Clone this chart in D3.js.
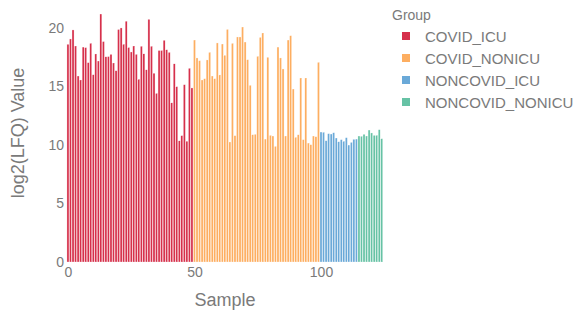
<!DOCTYPE html>
<html>
<head>
<meta charset="utf-8">
<script src="https://cdn.jsdelivr.net/npm/d3@7"></script>
<style>
  body { margin: 0; background: #fff; }
  svg text { font-family: "Liberation Sans", Arial, sans-serif; }
</style>
</head>
<body>
<svg id="chart" width="574" height="314"></svg>
<script>
// values, one array per group, in sample order
var groups = ['COVID_ICU', 'COVID_NONICU', 'NONCOVID_ICU', 'NONCOVID_NONICU'];

var covidIcu = [18.58, 19.03, 19.80, 18.43, 15.87, 15.53, 18.34, 18.29, 17.01, 18.66,
  15.98, 17.75, 17.15, 21.16, 18.81, 17.51, 17.53, 17.72, 16.98, 16.32,
  19.84, 19.97, 18.58, 20.55, 18.30, 17.92, 18.43, 17.72, 15.59, 18.41,
  17.76, 16.40, 20.71, 18.41, 16.11, 14.39, 18.05, 18.05, 18.92, 18.11,
  17.89, 13.58, 16.91, 14.96, 10.34, 10.78, 15.13, 10.31, 16.53, 14.85];

var covidNonIcu = [18.94, 17.41, 17.18, 15.53, 15.64, 17.24, 17.89, 15.87, 15.64, 18.69,
  15.96, 18.60, 17.64, 19.85, 10.24, 18.66, 10.78, 19.20, 19.20, 20.05,
  18.77, 17.26, 15.08, 10.86, 10.90, 17.55, 19.17, 19.54, 10.49, 17.47,
  10.81, 10.75, 9.87, 18.34, 17.41, 16.47, 10.75, 18.94, 19.31, 14.76,
  10.64, 10.86, 15.70, 10.44, 15.70, 10.15, 10.01, 10.75, 10.69, 17.04];

var noncovidIcu = [11.09, 11.07, 10.35, 10.95, 10.92, 11.03, 10.58, 10.26, 10.44, 10.30,
  10.61, 9.98, 10.21, 10.47, 10.49];

var noncovidNonIcu = [10.75, 10.73, 10.90, 10.75, 11.26, 11.01, 10.81, 10.81, 11.29, 10.52];

var xTicks = [0, 50, 100];
var yTicks = [0, 5, 10, 15, 20];

var colors = { COVID_ICU: '#d6304b', COVID_NONICU: '#fdae61', NONCOVID_ICU: '#6aa9d8', NONCOVID_NONICU: '#66c2a5' };

/*************************************************************************/

var series = [covidIcu, covidNonIcu, noncovidIcu, noncovidNonIcu];
var samples = [];
series.forEach((arr, g) => {
  arr.forEach(v => { samples.push({ sample: samples.length, value: v, group: groups[g] }); });
});

var svg = d3.select('#chart');

var xScale = d3.scaleLinear().domain([-0.5, samples.length - 0.5]).range([66.7, 383]);
var yScale = d3.scaleLinear().domain([0, 20]).range([262, 27.6]);
var barW = 0.8 * (xScale(1) - xScale(0));

svg.append('g').selectAll('rect')
  .data(samples)
  .join('rect')
  .attr('x', d => xScale(d.sample) - barW / 2)
  .attr('width', barW)
  .attr('y', d => yScale(d.value))
  .attr('height', d => yScale(0) - yScale(d.value))
  .attr('fill', d => colors[d.group])
  .attr('stroke', '#fff')
  .attr('stroke-width', 0.3);

var xAxis = svg.append('g').attr('transform', 'translate(0,' + yScale(0) + ')')
  .call(d3.axisBottom(xScale).tickValues(xTicks).tickSize(0).tickPadding(5));
var yAxis = svg.append('g').attr('transform', 'translate(' + 66 + ',0)')
  .call(d3.axisLeft(yScale).tickValues(yTicks).tickSize(0).tickPadding(2));

[xAxis, yAxis].forEach(ax => {
  ax.select('.domain').remove();
  ax.selectAll('text').style('font-size', '14px').style('fill', '#7a7a7a').style('font-family', '"Liberation Sans", Arial, sans-serif');
});

svg.append('text').attr('x', 225).attr('y', 306).attr('text-anchor', 'middle')
  .style('font-size', '18px').style('fill', '#7a7a7a').text('Sample');
svg.append('text').attr('transform', 'translate(24,133) rotate(-90)').attr('text-anchor', 'middle')
  .style('font-size', '18px').style('fill', '#7a7a7a').text('log2(LFQ) Value');

// legend
var legend = svg.append('g').attr('transform', 'translate(392,0)');
legend.append('text').attr('x', 0).attr('y', 20).style('font-size', '14px').style('fill', '#7a7a7a').text('Group');
var item = legend.selectAll('g.item').data(groups).join('g')
  .attr('transform', (d, i) => 'translate(0,' + (36 + i * 22) + ')');
item.append('rect').attr('x', 10).attr('y', -4).attr('width', 8).attr('height', 8).attr('fill', d => colors[d]);
item.append('text').attr('x', 33).attr('y', 5.5).style('font-size', '15px').style('fill', '#7a7a7a').text(d => d);
</script>
</body>
</html>
